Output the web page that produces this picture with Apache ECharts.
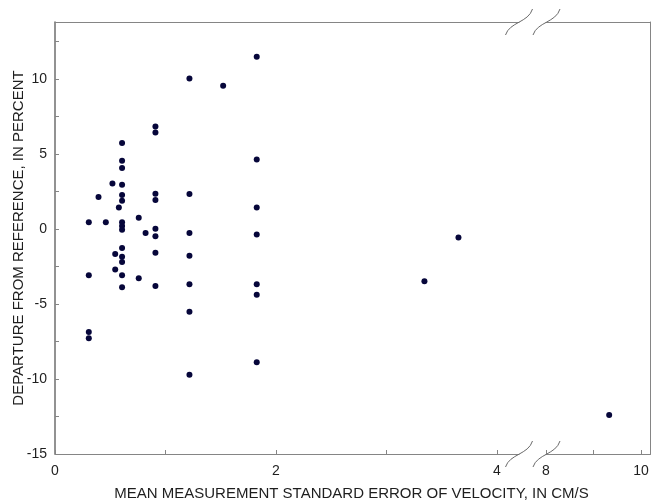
<!DOCTYPE html>
<html>
<head>
<meta charset="utf-8">
<script src="https://cdn.jsdelivr.net/npm/echarts@6/dist/echarts.min.js"></script>
<style>
html,body{margin:0;padding:0;background:#fff;}
#chart{width:652px;height:501px;}
</style>
</head>
<body>
<div id="chart"></div>
<script>
// Mean measurement standard error of velocity (cm/s)
const velocityError = [
  0.306, 0.306, 0.306, 0.306,
  0.394, 0.46, 0.52, 0.545, 0.545, 0.578,
  0.607, 0.607, 0.607, 0.607, 0.607, 0.607, 0.607, 0.607, 0.607, 0.607, 0.607, 0.607, 0.607, 0.607,
  0.758, 0.758, 0.82,
  0.909, 0.909, 0.909, 0.909, 0.909, 0.909, 0.909, 0.909,
  1.217, 1.217, 1.217, 1.217, 1.217, 1.217, 1.217,
  1.522,
  1.826, 1.826, 1.826, 1.826, 1.826, 1.826, 1.826,
  3.344, 3.652,
  9.33
];
// Departure from reference (percent)
const departure = [
  0.45, -3.09, -6.87, -7.29,
  2.13, 0.45, 3.04, -1.67, -2.70, 1.44,
  5.73, 4.55, 4.07, 2.95, 2.26, 1.89, 0.45, 0.20, -0.05, -1.27, -1.85, -2.20, -3.09, -3.89,
  0.75, -3.29, -0.27,
  6.84, 6.44, 2.35, 1.93, 0.02, -0.49, -1.58, -3.80,
  10.04, 2.33, -0.27, -1.78, -3.69, -5.51, -9.71,
  9.55,
  11.49, 4.64, 1.44, -0.36, -3.69, -4.38, -8.89,
  -3.49, -0.56,
  -12.40
];
const xTicksLow = [0, 1, 2, 3, 4];
const xLabelsLow = [0, 2, 4];
const xTicksHigh = [8, 9, 10];
const xLabelsHigh = [8, 10];
const yTicks = [-15, -12.5, -10, -7.5, -5, -2.5, 0, 2.5, 5, 7.5, 10, 12.5];
const yLabels = [-15, -10, -5, 0, 5, 10];
const xTitle = 'MEAN MEASUREMENT STANDARD ERROR OF VELOCITY, IN CM/S';
const yTitle = 'DEPARTURE FROM REFERENCE, IN PERCENT';

const lowPts = [], highPts = [];
velocityError.forEach((x, i) => {
  (x >= 8 ? highPts : lowPts).push([x, departure[i]]);
});

const FONT = 'Liberation Sans, Arial, sans-serif';
const axisGray = '#858585';
const textCol = '#1e1e1e';
const dotCol = '#06063a';

const chart = echarts.init(document.getElementById('chart'));

function lineOnly(extra) {
  return Object.assign({
    axisLine: { show: true, onZero: false, lineStyle: { color: axisGray, width: 1 } },
    axisTick: { show: false },
    axisLabel: { show: false },
    splitLine: { show: false }
  }, extra);
}

// Break marks (decorative S-curves)
function breakCurve(cx, cy) {
  return {
    type: 'bezierCurve',
    shape: {
      x1: cx - 13.5, y1: cy + 13,
      cpx1: cx - 9.5, cpy1: cy,
      cpx2: cx + 9.5, cpy2: cy + 0.5,
      x2: cx + 13.5, y2: cy - 13
    },
    style: { stroke: '#6a6a6a', lineWidth: 1, fill: null },
    z: 100
  };
}

const gTop = 22, gH = 432;

chart.setOption({
  animation: false,
  backgroundColor: '#ffffff',
  grid: [
    { left: 55, top: gTop, width: 464, height: gH },
    { left: 546, top: gTop, width: 104.5, height: gH }
  ],
  xAxis: [
    {
      gridIndex: 0, type: 'value', position: 'bottom', min: 0, max: 4.2,
      axisLine: { show: true, onZero: false, lineStyle: { color: axisGray, width: 1 } },
      axisTick: { show: true, inside: true, length: 4, customValues: xTicksLow, lineStyle: { color: axisGray } },
      axisLabel: { show: true, customValues: xLabelsLow, color: textCol, fontSize: 14, fontFamily: FONT, margin: 10 },
      splitLine: { show: false }
    },
    lineOnly({ gridIndex: 0, type: 'value', position: 'top', min: 0, max: 4.2 }),
    {
      gridIndex: 1, type: 'value', position: 'bottom', min: 8, max: 10.2,
      axisLine: { show: true, onZero: false, lineStyle: { color: axisGray, width: 1 } },
      axisTick: { show: true, inside: true, length: 4, customValues: xTicksHigh, lineStyle: { color: axisGray } },
      axisLabel: { show: true, customValues: xLabelsHigh, color: textCol, fontSize: 14, fontFamily: FONT, margin: 10 },
      splitLine: { show: false }
    },
    lineOnly({ gridIndex: 1, type: 'value', position: 'top', min: 8, max: 10.2 })
  ],
  yAxis: [
    {
      gridIndex: 0, type: 'value', position: 'left', min: -15, max: 13.8,
      axisLine: { show: true, onZero: false, lineStyle: { color: '#6e6e6e', width: 1.5 } },
      axisTick: { show: true, inside: true, length: 4, customValues: yTicks, lineStyle: { color: axisGray } },
      axisLabel: { show: true, customValues: yLabels, color: textCol, fontSize: 14, fontFamily: FONT, margin: 8 },
      splitLine: { show: false }
    },
    lineOnly({ gridIndex: 1, type: 'value', position: 'right', min: -15, max: 13.8 })
  ],
  graphic: [
    breakCurve(519, gTop + gH),
    breakCurve(546.5, gTop + gH),
    breakCurve(519, gTop),
    breakCurve(546.5, gTop),
    {
      type: 'text', x: 351.5, y: 493.5,
      style: { text: xTitle, font: '15px ' + FONT, fill: textCol, align: 'center', verticalAlign: 'middle' }
    },
    {
      type: 'text', x: 18.5, y: 238, rotation: Math.PI / 2,
      style: { text: yTitle, font: '15px ' + FONT, fill: textCol, align: 'center', verticalAlign: 'middle' }
    }
  ],
  series: [
    {
      type: 'scatter', xAxisIndex: 0, yAxisIndex: 0, data: lowPts,
      symbol: 'circle', symbolSize: 6, itemStyle: { color: dotCol, opacity: 1 }, clip: false
    },
    {
      type: 'scatter', xAxisIndex: 2, yAxisIndex: 1, data: highPts,
      symbol: 'circle', symbolSize: 6, itemStyle: { color: dotCol, opacity: 1 }, clip: false
    }
  ]
});
</script>
</body>
</html>
